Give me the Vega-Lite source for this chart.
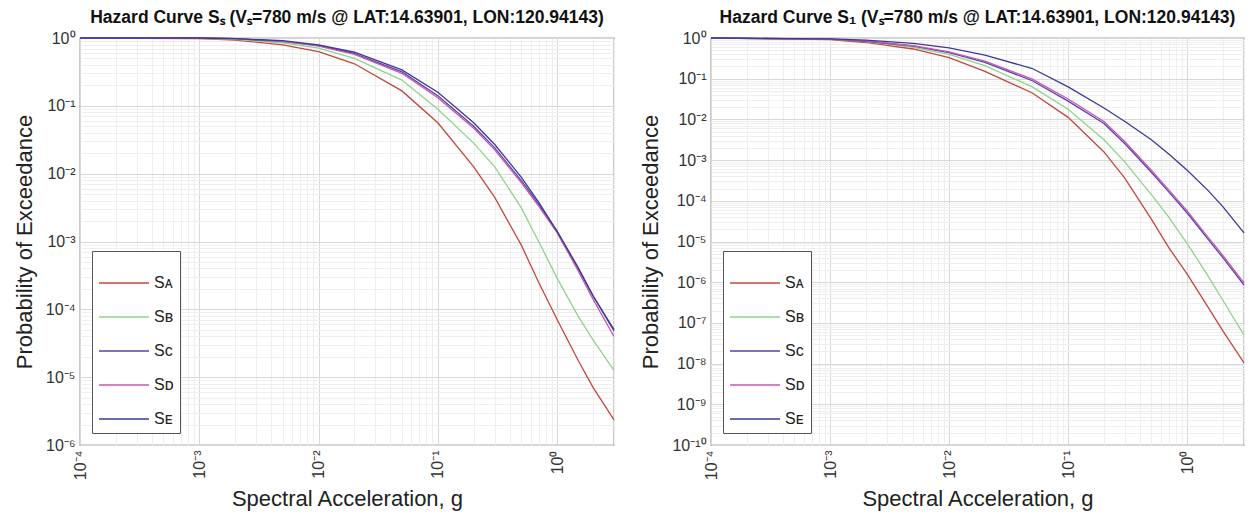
{
  "$schema": "https://vega.github.io/schema/vega-lite/v6.json",
  "background": "white",
  "padding": {"left": 12, "top": 7, "right": 4, "bottom": 4},
  "config": {
    "font": "Liberation Sans",
    "view": {"stroke": "#555555", "strokeWidth": 1.2},
    "axis": {
      "labelFont": "Liberation Sans", "labelFontSize": 16, "labelColor": "#333333",
      "titleFont": "Liberation Sans", "titleFontSize": 22, "titleFontWeight": "normal", "titleColor": "#222222",
      "domain": false, "ticks": false, "labelOverlap": false, "labelBound": false, "labelFlush": false,
      "labelPadding": 5
    },
    "title": {"font": "Liberation Sans", "fontSize": 17.5, "fontWeight": "bold", "color": "#111111", "anchor": "middle", "frame": "group", "offset": 4},
    "legend": {"labelFont": "Liberation Sans", "labelFontSize": 16, "labelColor": "#222222"},
    "line": {"strokeWidth": 1.3}
  },
  "datasets": {
    "ss": [
      {"x": 0.0001, "S_A": 1, "S_B": 1, "S_C": 1, "S_D": 1, "S_E": 1},
      {"x": 0.001, "S_A": 0.9772, "S_B": 0.9886, "S_C": 1, "S_D": 1, "S_E": 1},
      {"x": 0.002, "S_A": 0.9333, "S_B": 0.955, "S_C": 0.9772, "S_D": 0.9772, "S_E": 0.9772},
      {"x": 0.005, "S_A": 0.7943, "S_B": 0.8511, "S_C": 0.8913, "S_D": 0.8913, "S_E": 0.912},
      {"x": 0.01, "S_A": 0.631, "S_B": 0.7079, "S_C": 0.7762, "S_D": 0.7586, "S_E": 0.7943},
      {"x": 0.02, "S_A": 0.4169, "S_B": 0.5012, "S_C": 0.5888, "S_D": 0.5754, "S_E": 0.6166},
      {"x": 0.05, "S_A": 0.166, "S_B": 0.2399, "S_C": 0.3162, "S_D": 0.302, "S_E": 0.3388},
      {"x": 0.1, "S_A": 0.05623, "S_B": 0.08913, "S_C": 0.1413, "S_D": 0.1318, "S_E": 0.1585},
      {"x": 0.2, "S_A": 0.01259, "S_B": 0.02818, "S_C": 0.05012, "S_D": 0.04677, "S_E": 0.05623},
      {"x": 0.3, "S_A": 0.004467, "S_B": 0.01259, "S_C": 0.02399, "S_D": 0.02239, "S_E": 0.02692},
      {"x": 0.5, "S_A": 0.0008913, "S_B": 0.003162, "S_C": 0.007943, "S_D": 0.007413, "S_E": 0.008913},
      {"x": 0.7, "S_A": 0.0002512, "S_B": 0.001, "S_C": 0.003548, "S_D": 0.003311, "S_E": 0.003802},
      {"x": 1.0, "S_A": 0.00007079, "S_B": 0.0002884, "S_C": 0.001413, "S_D": 0.001349, "S_E": 0.001413},
      {"x": 1.5, "S_A": 0.00001778, "S_B": 0.00007943, "S_C": 0.0003981, "S_D": 0.0003715, "S_E": 0.0004169},
      {"x": 2.0, "S_A": 0.000007079, "S_B": 0.00003548, "S_C": 0.0001585, "S_D": 0.0001413, "S_E": 0.0001585},
      {"x": 3.0, "S_A": 0.000002344, "S_B": 0.00001259, "S_C": 0.00004786, "S_D": 0.00003981, "S_E": 0.00005012}
    ],
    "s1": [
      {"x": 0.0001, "S_A": 1, "S_B": 1, "S_C": 1, "S_D": 1, "S_E": 1},
      {"x": 0.001, "S_A": 0.912, "S_B": 0.9333, "S_C": 0.9333, "S_D": 0.9333, "S_E": 0.955},
      {"x": 0.002, "S_A": 0.7762, "S_B": 0.8128, "S_C": 0.8318, "S_D": 0.8511, "S_E": 0.8913},
      {"x": 0.005, "S_A": 0.537, "S_B": 0.5888, "S_C": 0.631, "S_D": 0.6457, "S_E": 0.7413},
      {"x": 0.01, "S_A": 0.3311, "S_B": 0.3981, "S_C": 0.4365, "S_D": 0.4571, "S_E": 0.5754},
      {"x": 0.02, "S_A": 0.1514, "S_B": 0.2089, "S_C": 0.2512, "S_D": 0.2692, "S_E": 0.3802},
      {"x": 0.05, "S_A": 0.04467, "S_B": 0.0631, "S_C": 0.08913, "S_D": 0.09772, "S_E": 0.1778},
      {"x": 0.1, "S_A": 0.01122, "S_B": 0.01778, "S_C": 0.02818, "S_D": 0.03162, "S_E": 0.0631},
      {"x": 0.2, "S_A": 0.001585, "S_B": 0.003162, "S_C": 0.007943, "S_D": 0.008913, "S_E": 0.01905},
      {"x": 0.3, "S_A": 0.0003548, "S_B": 0.0008913, "S_C": 0.002512, "S_D": 0.002818, "S_E": 0.008913},
      {"x": 0.5, "S_A": 0.00003548, "S_B": 0.0001413, "S_C": 0.0005012, "S_D": 0.0005623, "S_E": 0.003162},
      {"x": 0.7, "S_A": 0.000007079, "S_B": 0.00003981, "S_C": 0.000166, "S_D": 0.0001862, "S_E": 0.001413},
      {"x": 1.0, "S_A": 0.000001585, "S_B": 0.000008913, "S_C": 0.00005012, "S_D": 0.00005623, "S_E": 0.0005623},
      {"x": 1.5, "S_A": 2.399e-7, "S_B": 0.000001413, "S_C": 0.00001122, "S_D": 0.00001259, "S_E": 0.0001778},
      {"x": 2.0, "S_A": 6.31e-8, "S_B": 3.548e-7, "S_C": 0.000003981, "S_D": 0.000004467, "S_E": 0.00007079},
      {"x": 3.0, "S_A": 1.047e-8, "S_B": 5.012e-8, "S_C": 8.511e-7, "S_D": 9.55e-7, "S_E": 0.00001622}
    ]
  },
  "spacing": 16,
  "resolve": {"legend": {"color": "independent"}},
  "hconcat": [
    {
      "title": "Hazard Curve Sₛ (Vₛ=780 m/s @ LAT:14.63901, LON:120.94143)",
      "width": 534,
      "height": 407,
      "data": {"name": "ss"},
      "transform": [{"fold": ["S_A", "S_B", "S_C", "S_D", "S_E"], "as": ["site", "p"]}],
      "mark": {"type": "line", "strokeWidth": 1.3},
      "encoding": {
        "x": {
          "field": "x", "type": "quantitative",
          "scale": {"type": "log", "domain": [0.0001, 3], "nice": false},
          "axis": {
            "title": "Spectral Acceleration, g", "titlePadding": 9,
            "values": [0.0001,0.0002,0.0003,0.0004,0.0005,0.0006,0.0007,0.0008,0.0009,0.001,0.002,0.003,0.004,0.005,0.006,0.007,0.008,0.009,0.01,0.02,0.03,0.04,0.05,0.06,0.07,0.08,0.09,0.1,0.2,0.3,0.4,0.5,0.6,0.7,0.8,0.9,1,2,3],
            "labelAngle": 270,
            "labelExpr": "abs(log(datum.value)/LN10 - round(log(datum.value)/LN10)) < 0.001 ? '10' + replace(replace(replace(replace(replace(replace(replace(replace(replace(replace(replace(toString(round(log(datum.value)/LN10)),'-','⁻'),'0','⁰'),'1','¹'),'2','²'),'3','³'),'4','⁴'),'5','⁵'),'6','⁶'),'7','⁷'),'8','⁸'),'9','⁹') : ''",
            "gridColor": {"condition": {"test": "abs(log(datum.value)/LN10 - round(log(datum.value)/LN10)) < 0.001", "value": "#d8d8d8"}, "value": "#efefef"}
          }
        },
        "y": {
          "field": "p", "type": "quantitative",
          "scale": {"type": "log", "domain": [0.000001, 1], "nice": false},
          "axis": {
            "title": "Probability of Exceedance", "titlePadding": 9,
            "values": [0.000001,0.000002,0.000003,0.000004,0.000005,0.000006,0.000007,0.000008,0.000009,0.00001,0.00002,0.00003,0.00004,0.00005,0.00006,0.00007,0.00008,0.00009,0.0001,0.0002,0.0003,0.0004,0.0005,0.0006,0.0007,0.0008,0.0009,0.001,0.002,0.003,0.004,0.005,0.006,0.007,0.008,0.009,0.01,0.02,0.03,0.04,0.05,0.06,0.07,0.08,0.09,0.1,0.2,0.3,0.4,0.5,0.6,0.7,0.8,0.9,1],
            "labelExpr": "abs(log(datum.value)/LN10 - round(log(datum.value)/LN10)) < 0.001 ? '10' + replace(replace(replace(replace(replace(replace(replace(replace(replace(replace(replace(toString(round(log(datum.value)/LN10)),'-','⁻'),'0','⁰'),'1','¹'),'2','²'),'3','³'),'4','⁴'),'5','⁵'),'6','⁶'),'7','⁷'),'8','⁸'),'9','⁹') : ''",
            "gridColor": {"condition": {"test": "abs(log(datum.value)/LN10 - round(log(datum.value)/LN10)) < 0.001", "value": "#d8d8d8"}, "value": "#efefef"}
          }
        },
        "color": {
          "field": "site", "type": "nominal",
          "scale": {"domain": ["S_A", "S_B", "S_C", "S_D", "S_E"], "range": ["#c4473d", "#8ed48a", "#5c3db8", "#c45aa8", "#3a3a96"]},
          "legend": {
            "orient": "bottom-left", "offset": 12, "title": null,
            "labelExpr": "'S' + (datum.label == 'S_A' ? 'ᴀ' : datum.label == 'S_B' ? 'ʙ' : datum.label == 'S_C' ? 'ᴄ' : datum.label == 'S_D' ? 'ᴅ' : 'ᴇ')",
            "symbolType": "stroke", "symbolSize": 2500, "symbolStrokeWidth": 1.5,
            "rowPadding": -7, "padding": 6, "strokeColor": "#555555", "fillColor": "white", "labelOffset": 4
          }
        }
      }
    },
    {
      "title": "Hazard Curve S₁ (Vₛ=780 m/s @ LAT:14.63901, LON:120.94143)",
      "width": 533,
      "height": 407,
      "data": {"name": "s1"},
      "transform": [{"fold": ["S_A", "S_B", "S_C", "S_D", "S_E"], "as": ["site", "p"]}],
      "mark": {"type": "line", "strokeWidth": 1.3},
      "encoding": {
        "x": {
          "field": "x", "type": "quantitative",
          "scale": {"type": "log", "domain": [0.0001, 3], "nice": false},
          "axis": {
            "title": "Spectral Acceleration, g", "titlePadding": 9,
            "values": [0.0001,0.0002,0.0003,0.0004,0.0005,0.0006,0.0007,0.0008,0.0009,0.001,0.002,0.003,0.004,0.005,0.006,0.007,0.008,0.009,0.01,0.02,0.03,0.04,0.05,0.06,0.07,0.08,0.09,0.1,0.2,0.3,0.4,0.5,0.6,0.7,0.8,0.9,1,2,3],
            "labelAngle": 270,
            "labelExpr": "abs(log(datum.value)/LN10 - round(log(datum.value)/LN10)) < 0.001 ? '10' + replace(replace(replace(replace(replace(replace(replace(replace(replace(replace(replace(toString(round(log(datum.value)/LN10)),'-','⁻'),'0','⁰'),'1','¹'),'2','²'),'3','³'),'4','⁴'),'5','⁵'),'6','⁶'),'7','⁷'),'8','⁸'),'9','⁹') : ''",
            "gridColor": {"condition": {"test": "abs(log(datum.value)/LN10 - round(log(datum.value)/LN10)) < 0.001", "value": "#d8d8d8"}, "value": "#efefef"}
          }
        },
        "y": {
          "field": "p", "type": "quantitative",
          "scale": {"type": "log", "domain": [1e-10, 1], "nice": false},
          "axis": {
            "title": "Probability of Exceedance", "titlePadding": 9,
            "values": [1e-10,2e-10,3e-10,4e-10,5e-10,6e-10,7e-10,8e-10,9e-10,1e-9,2e-9,3e-9,4e-9,5e-9,6e-9,7e-9,8e-9,9e-9,1e-8,2e-8,3e-8,4e-8,5e-8,6e-8,7e-8,8e-8,9e-8,1e-7,2e-7,3e-7,4e-7,5e-7,6e-7,7e-7,8e-7,9e-7,0.000001,0.000002,0.000003,0.000004,0.000005,0.000006,0.000007,0.000008,0.000009,0.00001,0.00002,0.00003,0.00004,0.00005,0.00006,0.00007,0.00008,0.00009,0.0001,0.0002,0.0003,0.0004,0.0005,0.0006,0.0007,0.0008,0.0009,0.001,0.002,0.003,0.004,0.005,0.006,0.007,0.008,0.009,0.01,0.02,0.03,0.04,0.05,0.06,0.07,0.08,0.09,0.1,0.2,0.3,0.4,0.5,0.6,0.7,0.8,0.9,1],
            "labelExpr": "abs(log(datum.value)/LN10 - round(log(datum.value)/LN10)) < 0.001 ? '10' + replace(replace(replace(replace(replace(replace(replace(replace(replace(replace(replace(toString(round(log(datum.value)/LN10)),'-','⁻'),'0','⁰'),'1','¹'),'2','²'),'3','³'),'4','⁴'),'5','⁵'),'6','⁶'),'7','⁷'),'8','⁸'),'9','⁹') : ''",
            "gridColor": {"condition": {"test": "abs(log(datum.value)/LN10 - round(log(datum.value)/LN10)) < 0.001", "value": "#d8d8d8"}, "value": "#efefef"}
          }
        },
        "color": {
          "field": "site", "type": "nominal",
          "scale": {"domain": ["S_A", "S_B", "S_C", "S_D", "S_E"], "range": ["#c4473d", "#8ed48a", "#5c3db8", "#c45aa8", "#3a3a96"]},
          "legend": {
            "orient": "bottom-left", "offset": 12, "title": null,
            "labelExpr": "'S' + (datum.label == 'S_A' ? 'ᴀ' : datum.label == 'S_B' ? 'ʙ' : datum.label == 'S_C' ? 'ᴄ' : datum.label == 'S_D' ? 'ᴅ' : 'ᴇ')",
            "symbolType": "stroke", "symbolSize": 2500, "symbolStrokeWidth": 1.5,
            "rowPadding": -7, "padding": 6, "strokeColor": "#555555", "fillColor": "white", "labelOffset": 4
          }
        }
      }
    }
  ]
}
